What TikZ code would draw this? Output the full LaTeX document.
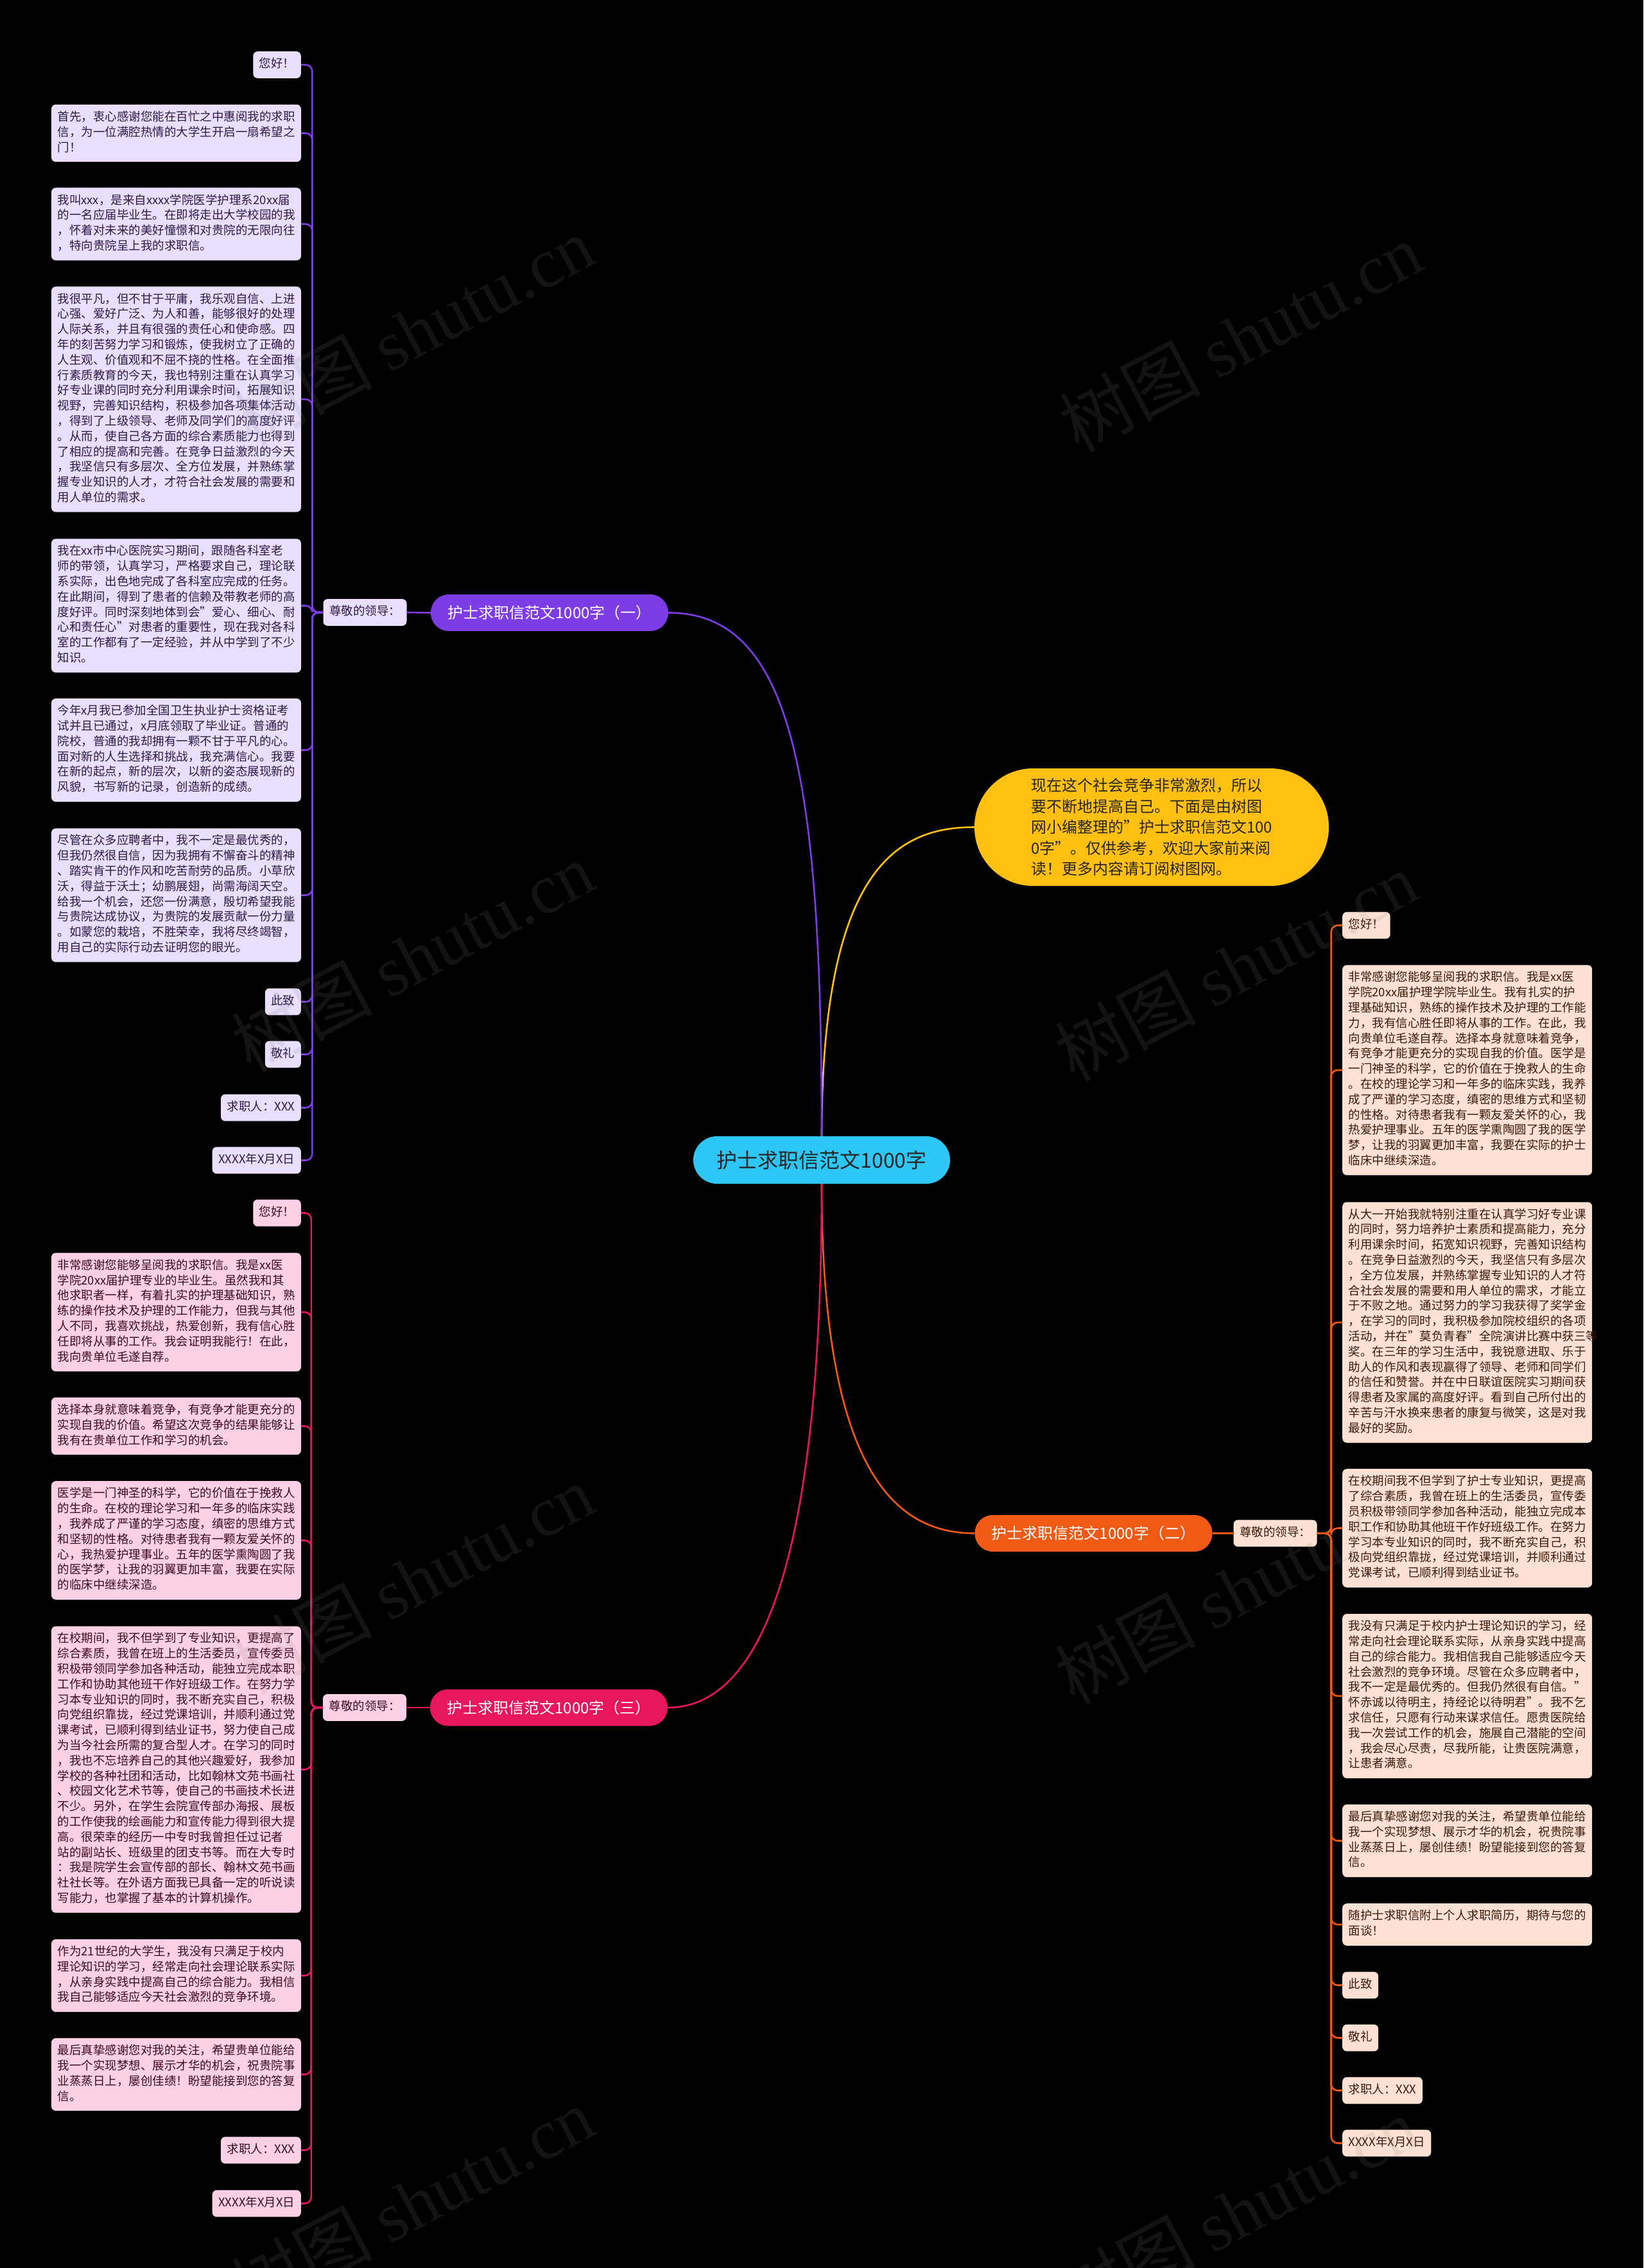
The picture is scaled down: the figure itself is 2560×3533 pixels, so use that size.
\documentclass[tikz,border=0pt]{standalone}
\usepackage{fontspec}
\setmainfont{Noto Sans CJK SC}
\newfontfamily\wmlatin{Liberation Serif}
\newcommand\lf{\fontsize{18.5}{23.8}\selectfont}
\definecolor{bgc}{HTML}{000000}
\definecolor{pmain}{HTML}{7E3CE6}
\definecolor{pleafc}{HTML}{E9DFFD}
\definecolor{ptext}{HTML}{2B1B45}
\definecolor{kmain}{HTML}{E8175D}
\definecolor{kleafc}{HTML}{FCD0E4}
\definecolor{ktext}{HTML}{3D0B22}
\definecolor{omain}{HTML}{F05A14}
\definecolor{oleafc}{HTML}{FDE2D4}
\definecolor{otext}{HTML}{3A1A0A}
\definecolor{ymain}{HTML}{FFC012}
\definecolor{cmain}{HTML}{2EC6F5}
\tikzset{
  leafbase/.style={rounded corners=7pt, inner xsep=9.5pt, inner ysep=9pt, font=\lf, align=left,
    execute at begin node=\strut, execute at end node=\strut},
  pbox/.style={leafbase, fill=pleafc, text=ptext},
  kbox/.style={leafbase, fill=kleafc, text=ktext},
  obox/.style={leafbase, fill=oleafc, text=otext},
  wbox/.style={text width=370pt},
  branchbox/.style={rounded corners=28pt, minimum width=370pt, minimum height=57pt, inner sep=0pt,
    text=white, font=\fontsize{24}{28}\selectfont},
  linkbase/.style={line width=2.6pt},
  plink/.style={linkbase, draw=pmain, rounded corners=10pt},
  klink/.style={linkbase, draw=kmain, rounded corners=10pt},
  olink/.style={linkbase, draw=omain, rounded corners=10pt},
  ylink/.style={linkbase, draw=ymain},
  wmark/.style={text=gray, text opacity=0.15, rotate=28, font=\fontsize{110}{120}\selectfont}
}
\begin{document}
\begin{tikzpicture}[x=1pt,y=-1pt]
\useasboundingbox (0,0) rectangle (2560,3533);
\fill[bgc] (0,0) rectangle (2560,3533);

% root and intro
\node[rounded corners=37pt, fill=cmain, minimum width=400pt, minimum height=74pt, inner sep=0pt,
  text=black!85, font=\fontsize{32}{38}\selectfont] (root) at (1280,1807) {护士求职信范文1000字};
\node[rounded corners=91pt, fill=ymain, minimum width=552pt, minimum height=183pt, inner sep=0pt,
  align=left, text=black!85, font=\fontsize{24}{32.5}\selectfont] (intro) at (1794,1288.5)
  {现在这个社会竞争非常激烈，所以\\要不断地提高自己。下面是由树图\\网小编整理的"护士求职信范文100\\0字"。仅供参考，欢迎大家前来阅\\读！更多内容请订阅树图网。};

% branches
\node[branchbox, fill=pmain] (B1) at (856,954.5) {护士求职信范文1000字（一）};
\node[branchbox, fill=omain] (B2) at (1703.5,2388.5) {护士求职信范文1000字（二）};
\node[branchbox, fill=kmain] (B3) at (855,2660) {护士求职信范文1000字（三）};
\node[pbox] (L1) at (568.5,954) {尊敬的领导：};
\node[obox] (L2) at (1986.5,2388.5) {尊敬的领导：};
\node[kbox] (L3) at (568,2660) {尊敬的领导：};

% purple leaves
\node[pbox, anchor=east] (P1) at (469,101) {您好！};
\node[pbox, wbox] (P2) at (274.5,207.5) {首先，衷心感谢您能在百忙之中惠阅我的求职\\信，为一位满腔热情的大学生开启一扇希望之\\门！};
\node[pbox, wbox] (P3) at (274.5,349) {我叫xxx，是来自xxxx学院医学护理系20xx届\\的一名应届毕业生。在即将走出大学校园的我\\，怀着对未来的美好憧憬和对贵院的无限向往\\，特向贵院呈上我的求职信。};
\node[pbox, wbox] (P4) at (274.5,622) {我很平凡，但不甘于平庸，我乐观自信、上进\\心强、爱好广泛、为人和善，能够很好的处理\\人际关系，并且有很强的责任心和使命感。四\\年的刻苦努力学习和锻炼，使我树立了正确的\\人生观、价值观和不屈不挠的性格。在全面推\\行素质教育的今天，我也特别注重在认真学习\\好专业课的同时充分利用课余时间，拓展知识\\视野，完善知识结构，积极参加各项集体活动\\，得到了上级领导、老师及同学们的高度好评\\。从而，使自己各方面的综合素质能力也得到\\了相应的提高和完善。在竞争日益激烈的今天\\，我坚信只有多层次、全方位发展，并熟练掌\\握专业知识的人才，才符合社会发展的需要和\\用人单位的需求。};
\node[pbox, wbox] (P5) at (274.5,943.5) {我在xx市中心医院实习期间，跟随各科室老\\师的带领，认真学习，严格要求自己，理论联\\系实际，出色地完成了各科室应完成的任务。\\在此期间，得到了患者的信赖及带教老师的高\\度好评。同时深刻地体到会"爱心、细心、耐\\心和责任心"对患者的重要性，现在我对各科\\室的工作都有了一定经验，并从中学到了不少\\知识。};
\node[pbox, wbox] (P6) at (274.5,1168.5) {今年x月我已参加全国卫生执业护士资格证考\\试并且已通过，x月底领取了毕业证。普通的\\院校，普通的我却拥有一颗不甘于平凡的心。\\面对新的人生选择和挑战，我充满信心。我要\\在新的起点，新的层次，以新的姿态展现新的\\风貌，书写新的记录，创造新的成绩。};
\node[pbox, wbox] (P7) at (274.5,1394.5) {尽管在众多应聘者中，我不一定是最优秀的，\\但我仍然很自信，因为我拥有不懈奋斗的精神\\、踏实肯干的作风和吃苦耐劳的品质。小草欣\\沃，得益于沃土；幼鹏展翅，尚需海阔天空。\\给我一个机会，还您一份满意，殷切希望我能\\与贵院达成协议，为贵院的发展贡献一份力量\\。如蒙您的栽培，不胜荣幸，我将尽终竭智，\\用自己的实际行动去证明您的眼光。};
\node[pbox, anchor=east] (P8) at (469,1560.5) {此致};
\node[pbox, anchor=east] (P9) at (469,1642.5) {敬礼};
\node[pbox, anchor=east] (P10) at (469,1725.5) {求职人：XXX};
\node[pbox, anchor=east] (P11) at (469,1807.5) {XXXX年X月X日};

% pink leaves
\node[kbox, anchor=east] (K1) at (469,1889.5) {您好！};
\node[kbox, wbox] (K2) at (274.5,2044) {非常感谢您能够呈阅我的求职信。我是xx医\\学院20xx届护理专业的毕业生。虽然我和其\\他求职者一样，有着扎实的护理基础知识，熟\\练的操作技术及护理的工作能力，但我与其他\\人不同，我喜欢挑战，热爱创新，我有信心胜\\任即将从事的工作。我会证明我能行！在此，\\我向贵单位毛遂自荐。};
\node[kbox, wbox] (K3) at (274.5,2221.5) {选择本身就意味着竞争，有竞争才能更充分的\\实现自我的价值。希望这次竞争的结果能够让\\我有在贵单位工作和学习的机会。};
\node[kbox, wbox] (K4) at (274.5,2399.5) {医学是一门神圣的科学，它的价值在于挽救人\\的生命。在校的理论学习和一年多的临床实践\\，我养成了严谨的学习态度，缜密的思维方式\\和坚韧的性格。对待患者我有一颗友爱关怀的\\心，我热爱护理事业。五年的医学熏陶圆了我\\的医学梦，让我的羽翼更加丰富，我要在实际\\的临床中继续深造。};
\node[kbox, wbox] (K5) at (274.5,2756.5) {在校期间，我不但学到了专业知识，更提高了\\综合素质，我曾在班上的生活委员，宣传委员\\积极带领同学参加各种活动，能独立完成本职\\工作和协助其他班干作好班级工作。在努力学\\习本专业知识的同时，我不断充实自己，积极\\向党组织靠拢，经过党课培训，并顺利通过党\\课考试，已顺利得到结业证书，努力使自己成\\为当今社会所需的复合型人才。在学习的同时\\，我也不忘培养自己的其他兴趣爱好，我参加\\学校的各种社团和活动，比如翰林文苑书画社\\、校园文化艺术节等，使自己的书画技术长进\\不少。另外，在学生会院宣传部办海报、展板\\的工作使我的绘画能力和宣传能力得到很大提\\高。很荣幸的经历一中专时我曾担任过记者\\站的副站长、班级里的团支书等。而在大专时\\：我是院学生会宣传部的部长、翰林文苑书画\\社社长等。在外语方面我已具备一定的听说读\\写能力，也掌握了基本的计算机操作。};
\node[kbox, wbox] (K6) at (274.5,3077.5) {作为21世纪的大学生，我没有只满足于校内\\理论知识的学习，经常走向社会理论联系实际\\，从亲身实践中提高自己的综合能力。我相信\\我自己能够适应今天社会激烈的竞争环境。};
\node[kbox, wbox] (K7) at (274.5,3231.5) {最后真挚感谢您对我的关注，希望贵单位能给\\我一个实现梦想、展示才华的机会，祝贵院事\\业蒸蒸日上，屡创佳绩！盼望能接到您的答复\\信。};
\node[kbox, anchor=east] (K8) at (469,3349.5) {求职人：XXX};
\node[kbox, anchor=east] (K9) at (469,3432.5) {XXXX年X月X日};

% orange leaves
\node[obox, anchor=west] (O1) at (2091,1441.5) {您好！};
\node[obox, wbox, anchor=west] (O2) at (2091,1667) {非常感谢您能够呈阅我的求职信。我是xx医\\学院20xx届护理学院毕业生。我有扎实的护\\理基础知识，熟练的操作技术及护理的工作能\\力，我有信心胜任即将从事的工作。在此，我\\向贵单位毛遂自荐。选择本身就意味着竞争，\\有竞争才能更充分的实现自我的价值。医学是\\一门神圣的科学，它的价值在于挽救人的生命\\。在校的理论学习和一年多的临床实践，我养\\成了严谨的学习态度，缜密的思维方式和坚韧\\的性格。对待患者我有一颗友爱关怀的心，我\\热爱护理事业。五年的医学熏陶圆了我的医学\\梦，让我的羽翼更加丰富，我要在实际的护士\\临床中继续深造。};
\node[obox, wbox, anchor=west] (O3) at (2091,2060) {从大一开始我就特别注重在认真学习好专业课\\的同时，努力培养护士素质和提高能力，充分\\利用课余时间，拓宽知识视野，完善知识结构\\。在竞争日益激烈的今天，我坚信只有多层次\\，全方位发展，并熟练掌握专业知识的人才符\\合社会发展的需要和用人单位的需求，才能立\\于不败之地。通过努力的学习我获得了奖学金\\，在学习的同时，我积极参加院校组织的各项\\活动，并在"莫负青春"全院演讲比赛中获三等\\奖。在三年的学习生活中，我锐意进取、乐于\\助人的作风和表现赢得了领导、老师和同学们\\的信任和赞誉。并在中日联谊医院实习期间获\\得患者及家属的高度好评。看到自己所付出的\\辛苦与汗水换来患者的康复与微笑，这是对我\\最好的奖励。};
\node[obox, wbox, anchor=west] (O4) at (2091,2380.5) {在校期间我不但学到了护士专业知识，更提高\\了综合素质，我曾在班上的生活委员，宣传委\\员积极带领同学参加各种活动，能独立完成本\\职工作和协助其他班干作好班级工作。在努力\\学习本专业知识的同时，我不断充实自己，积\\极向党组织靠拢，经过党课培训，并顺利通过\\党课考试，已顺利得到结业证书。};
\node[obox, wbox, anchor=west] (O5) at (2091,2642) {我没有只满足于校内护士理论知识的学习，经\\常走向社会理论联系实际，从亲身实践中提高\\自己的综合能力。我相信我自己能够适应今天\\社会激烈的竞争环境。尽管在众多应聘者中，\\我不一定是最优秀的。但我仍然很有自信。"\\怀赤诚以待明主，持经论以待明君"。我不乞\\求信任，只愿有行动来谋求信任。愿贵医院给\\我一次尝试工作的机会，施展自己潜能的空间\\，我会尽心尽责，尽我所能，让贵医院满意，\\让患者满意。};
\node[obox, wbox, anchor=west] (O6) at (2091,2867.5) {最后真挚感谢您对我的关注，希望贵单位能给\\我一个实现梦想、展示才华的机会，祝贵院事\\业蒸蒸日上，屡创佳绩！盼望能接到您的答复\\信。};
\node[obox, wbox, anchor=west] (O7) at (2091,2998) {随护士求职信附上个人求职简历，期待与您的\\面谈！};
\node[obox, anchor=west] (O8) at (2091,3092.5) {此致};
\node[obox, anchor=west] (O9) at (2091,3174.5) {敬礼};
\node[obox, anchor=west] (O10) at (2091,3256.5) {求职人：XXX};
\node[obox, anchor=west] (O11) at (2091,3338.5) {XXXX年X月X日};

% main curves
\draw[ylink] (root.north) .. controls +(0,-420) and +(-118,0) .. (intro.west);
\draw[linkbase, draw=pmain] (root.north) .. controls +(0,-570) and +(190,0) .. (B1.east);
\draw[linkbase, draw=omain] (root.south) .. controls +(0,456) and +(-119,0) .. (B2.west);
\draw[linkbase, draw=kmain] (root.south) .. controls +(0,606) and +(139,0) .. (B3.east);

% branch to lead
\draw[plink] (B1.west) -- (L1.east);
\draw[olink] (B2.east) -- (L2.west);
\draw[klink] (B3.west) -- (L3.east);

% purple tree
\foreach \n in {P1,P2,P3,P4,P5,P6,P7,P8,P9,P10,P11}
  \draw[plink] (L1.west) -- ++(-17,0) |- (\n.east);
% pink tree
\foreach \n in {K1,K2,K3,K4,K5,K6,K7,K8,K9}
  \draw[klink] (L3.west) -- ++(-18,0) |- (\n.east);
% orange tree
\foreach \n in {O1,O2,O3,O4,O5,O6,O7,O8,O9,O10,O11}
  \draw[olink] (L2.east) -- ++(22,0) |- (\n.west);

% watermarks
\begin{scope}
\clip (0,0) rectangle (2560,3533);
\foreach \wx/\wy [count=\i] in {642/515, 1932/525, 642/1490, 1925/1505, 642/2460, 1925/2475, 642/3430, 1925/3445}
  \node[wmark] (wm\i) at (\wx,\wy) {树图 {\wmlatin shutu.cn}};
\end{scope}
\end{tikzpicture}
\end{document}
